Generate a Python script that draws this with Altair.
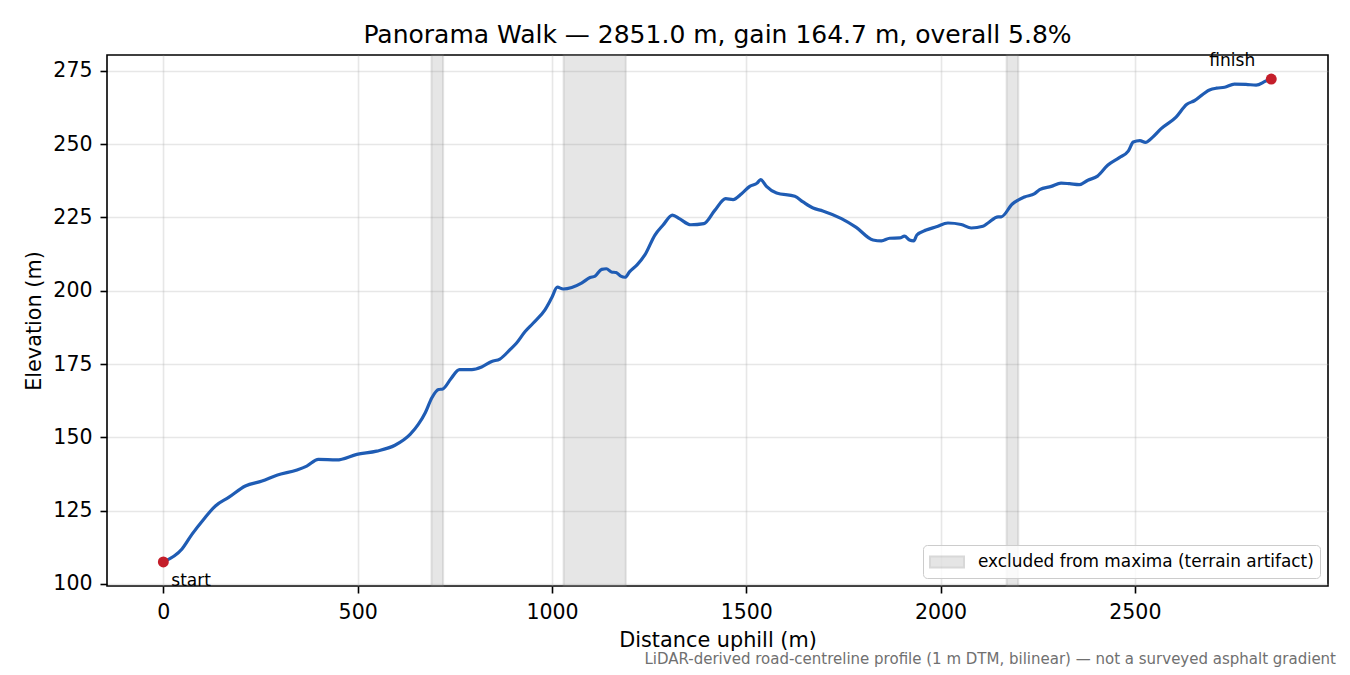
import altair as alt
import pandas as pd

# ---- data ----
distance_m = [0, 48, 74, 104, 134, 168, 211, 254, 292, 344, 369, 399, 446, 498, 549, 596,
              635, 656, 674, 691, 708, 719, 740, 762, 794, 819, 845, 866, 892, 909, 931, 952,
              982, 999, 1014, 1029, 1051, 1076, 1098, 1111, 1128, 1140, 1153, 1165, 1177, 1188,
              1200, 1219, 1239, 1265, 1286, 1310, 1329, 1357, 1391, 1419, 1447, 1466, 1488, 1509,
              1528, 1537, 1552, 1578, 1625, 1646, 1672, 1697, 1745, 1783, 1826, 1848, 1869, 1895,
              1907, 1920, 1931, 1939, 1963, 1989, 2019, 2053, 2079, 2109, 2122, 2148, 2156, 2184,
              2216, 2242, 2255, 2285, 2310, 2332, 2357, 2379, 2404, 2430, 2460, 2483, 2496, 2513,
              2527, 2546, 2567, 2606, 2633, 2653, 2692, 2710, 2731, 2756, 2786, 2812, 2837, 2851]
elevation_m = [107.5, 111.9, 117.0, 122.1, 126.6, 129.5, 133.4, 135.1, 137.1, 138.9, 140.2, 142.5,
               142.3, 144.2, 145.3, 147.3, 151.0, 154.4, 158.4, 163.5, 166.3, 166.5, 170.0, 173.1,
               173.1, 174.0, 175.9, 176.7, 179.9, 182.2, 186.1, 189.0, 193.5, 197.5, 201.2, 200.6,
               201.1, 202.6, 204.5, 205.0, 207.3, 207.5, 206.4, 206.2, 205.0, 204.6, 206.5, 208.8,
               212.2, 219.0, 222.4, 225.8, 224.5, 222.5, 222.9, 227.4, 231.4, 231.1, 233.1, 235.6,
               236.7, 237.9, 235.6, 233.3, 232.2, 230.3, 228.2, 227.2, 224.6, 221.6, 217.3, 217.0,
               217.9, 218.0, 218.6, 217.3, 217.0, 219.0, 220.7, 221.8, 223.1, 222.6, 221.4, 222.0,
               223.1, 225.2, 225.2, 229.5, 232.0, 233.1, 234.5, 235.6, 236.7, 236.5, 236.2, 237.7,
               239.1, 242.8, 245.4, 247.6, 250.7, 251.2, 250.6, 252.4, 255.2, 259.2, 263.5, 264.8,
               268.5, 269.1, 269.4, 270.5, 270.4, 270.1, 271.5, 272.2]

span_start = [690, 1030, 2170]
span_end = [720, 1190, 2200]
span_label = ["excluded from maxima (terrain artifact)"] * 3

end_names = ["start", "finish"]
end_distance = [0, 2851]
end_elevation = [107.5, 272.2]

x_ticks = [0, 500, 1000, 1500, 2000, 2500]
y_ticks = [100, 125, 150, 175, 200, 225, 250, 275]

title_text = "Panorama Walk \u2014 2851.0 m, gain 164.7 m, overall 5.8%"
footnote_text = ("LiDAR-derived road-centreline profile (1 m DTM, bilinear) \u2014 "
                 "not a surveyed asphalt gradient")

FONT = "DejaVu Sans"
W, H = 1221, 531

profile = pd.DataFrame({"d": distance_m, "z": elevation_m})
spans = pd.DataFrame({"s": span_start, "e": span_end, "lab": span_label})
ends = pd.DataFrame({"name": end_names, "d": end_distance, "z": end_elevation})
foot = pd.DataFrame({"t": [footnote_text]})

xscale = alt.Scale(domain=[-145, 2997], nice=False, zero=False)
yscale = alt.Scale(domain=[99.3, 280.4], nice=False, zero=False)

xaxis = alt.Axis(values=x_ticks, format="d", title="Distance uphill (m)",
                 labelPadding=9, titlePadding=8)
yaxis = alt.Axis(values=y_ticks, format="d", title="Elevation (m)",
                 labelPadding=8, titlePadding=8)

span_layer = alt.Chart(spans).mark_rect(
    fillOpacity=0.2, stroke="#808080", strokeOpacity=0.2, strokeWidth=2
).encode(
    x=alt.X("s:Q", scale=xscale, axis=xaxis),
    x2="e:Q",
    color=alt.Color(
        "lab:N",
        scale=alt.Scale(range=["#808080"]),
        legend=alt.Legend(
            title=None, orient="bottom-right", offset=8, padding=6,
            fillColor="rgba(255,255,255,0.8)", strokeColor="#cccccc", cornerRadius=4,
            symbolType="M-1,-0.55H2.4V0.55H-1Z", symbolSize=400,
            symbolOpacity=0.2, symbolStrokeColor="#404040", symbolStrokeWidth=2,
            labelOffset=27, labelFontSize=16.9, labelFont=FONT, labelColor="black",
            labelLimit=600,
        ),
    ),
)

line_layer = alt.Chart(profile).mark_line(
    color="#1f5cb4", strokeWidth=3.2, strokeJoin="round", strokeCap="round",
    interpolate="monotone"
).encode(
    x=alt.X("d:Q", scale=xscale, axis=xaxis),
    y=alt.Y("z:Q", scale=yscale, axis=yaxis),
)

dot_layer = alt.Chart(ends).mark_circle(color="#c41e2a", opacity=1, size=120).encode(
    x=alt.X("d:Q", scale=xscale),
    y=alt.Y("z:Q", scale=yscale),
)

start_text = alt.Chart(ends).transform_filter(alt.datum.name == "start").mark_text(
    align="left", baseline="alphabetic", dx=8, dy=24, fontSize=17, font=FONT, color="black"
).encode(x=alt.X("d:Q", scale=xscale), y=alt.Y("z:Q", scale=yscale), text="name:N")

finish_text = alt.Chart(ends).transform_filter(alt.datum.name == "finish").mark_text(
    align="center", baseline="alphabetic", dx=-39, dy=-13, fontSize=17, font=FONT, color="black"
).encode(x=alt.X("d:Q", scale=xscale), y=alt.Y("z:Q", scale=yscale), text="name:N")

foot_layer = alt.Chart(foot).mark_text(
    align="right", baseline="alphabetic", fontSize=15, font=FONT, color="#707070"
).encode(x=alt.value(1229), y=alt.value(609), text="t:N")

chart = alt.layer(
    span_layer, line_layer, dot_layer, start_text, finish_text, foot_layer
).properties(
    width=W, height=H,
    title=alt.TitleParams(title_text, font=FONT, fontSize=25, fontWeight="normal",
                          anchor="middle", offset=-16, baseline="alphabetic", color="black"),
    autosize=alt.AutoSizeParams(type="none"),
    padding={"left": 99, "top": 47, "right": 14, "bottom": 81},
).configure_axis(
    labelFont=FONT, titleFont=FONT, labelFontSize=20.5, titleFontSize=20.8,
    labelColor="black", titleColor="black", titleFontWeight="normal",
    tickColor="black", tickSize=7, tickWidth=1.6, domain=False,
    gridColor="#b0b0b0", gridOpacity=0.3, gridWidth=1.6,
).configure_view(
    stroke="black", strokeWidth=1.6
)

chart.save("out.html", embed_options={"renderer": "svg", "actions": False})
